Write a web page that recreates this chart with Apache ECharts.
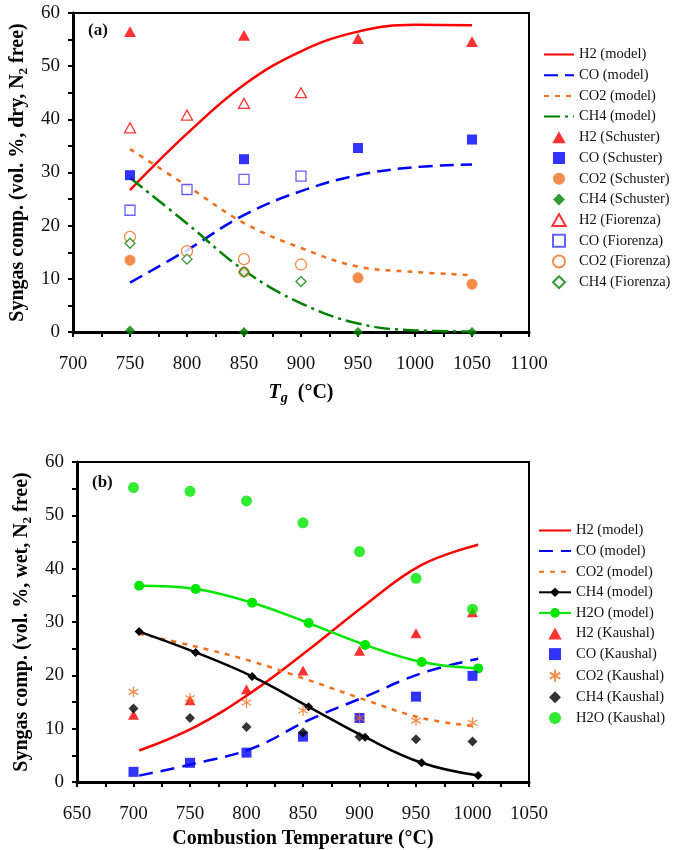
<!DOCTYPE html>
<html>
<head>
<meta charset="utf-8">
<script src="https://cdn.jsdelivr.net/npm/echarts@6/dist/echarts.min.js"></script>
<style>
  html, body { margin: 0; padding: 0; background: #fff; }
  #chart { width: 673px; height: 850px; }
</style>
</head>
<body>
<div id="chart"></div>
<script>
// ---- panel (a) ----
const tgModel = [750, 800, 850, 900, 950, 1000, 1050];
const h2ModelA = [26.7, 37.3, 46.5, 52.8, 56.5, 57.8, 57.7];
const coModelA = [9.3, 15.4, 22.0, 26.5, 29.5, 31.0, 31.5];
const co2ModelA = [34.4, 27.5, 20.5, 15.8, 12.3, 11.3, 10.7];
const ch4ModelA = [29.0, 20.4, 11.6, 5.4, 1.6, 0.3, 0.1];

const tgSchuster = [750, 850, 950, 1050];
const h2Schuster = [56.5, 55.8, 55.2, 54.6];
const coSchuster = [29.5, 32.5, 34.6, 36.2];
const co2Schuster = [13.5, 11.3, 10.2, 9.0];
const ch4Schuster = [0.3, 0, 0, 0];

const tgFiorenza = [750, 800, 850, 900];
const h2Fiorenza = [38.4, 40.8, 43.0, 45.0];
const coFiorenza = [22.9, 26.8, 28.7, 29.3];
const co2Fiorenza = [17.9, 15.2, 13.7, 12.7];
const ch4Fiorenza = [16.7, 13.7, 11.3, 9.5];

// ---- panel (b) ----
const tcModel = [705, 755, 805, 855, 905, 955, 1005];
const h2ModelB = [5.9, 10.4, 16.9, 24.8, 33.2, 40.7, 44.5];
const coModelB = [1.2, 3.5, 6.3, 11.6, 16.0, 20.4, 23.1];
const co2ModelB = [27.8, 25.4, 22.6, 19.1, 15.4, 12.0, 10.4];
const ch4ModelB = [28.2, 24.3, 19.8, 14.1, 8.4, 3.6, 1.2];
const h2oModelB = [36.8, 36.2, 33.6, 29.8, 25.7, 22.5, 21.3];

const tcKaushal = [700, 750, 800, 850, 900, 950, 1000];
const h2Kaushal = [12.6, 15.3, 17.4, 20.9, 24.6, 27.9, 31.8];
const coKaushal = [1.9, 3.6, 5.5, 8.5, 12.0, 16.0, 19.9];
const co2Kaushal = [16.9, 15.7, 14.9, 13.4, 12.0, 11.5, 11.1];
const ch4Kaushal = [13.8, 12.0, 10.3, 9.3, 8.5, 8.0, 7.6];
const h2oKaushal = [55.2, 54.5, 52.7, 48.6, 43.2, 38.2, 32.4];

const legendA = ['H2 (model)', 'CO (model)', 'CO2 (model)', 'CH4 (model)',
  'H2 (Schuster)', 'CO (Schuster)', 'CO2 (Schuster)', 'CH4 (Schuster)',
  'H2 (Fiorenza)', 'CO (Fiorenza)', 'CO2 (Fiorenza)', 'CH4 (Fiorenza)'];
const legendB = ['b:H2 (model)', 'b:CO (model)', 'b:CO2 (model)', 'b:CH4 (model)', 'b:H2O (model)',
  'b:H2 (Kaushal)', 'b:CO (Kaushal)', 'b:CO2 (Kaushal)', 'b:CH4 (Kaushal)', 'b:H2O (Kaushal)'];
// model lines drawn without markers: hide the marker in their legend icon
const plainLines = ['H2 (model)', 'CO (model)', 'CO2 (model)', 'CH4 (model)',
  'b:H2 (model)', 'b:CO (model)', 'b:CO2 (model)'];

const FONT = 'Liberation Serif';
const RED = '#ff0000', BLUE = '#0000ff', ORANGE = '#f36f1e', DKGREEN = '#008000', LIME = '#00e600';
// path symbols so that legend icons keep their aspect
const TRI = 'path://M5,0L10,9L0,9Z';
const SQR = 'path://M0,0L10,0L10,10L0,10Z';
const DIA = 'path://M5,0L10,5L5,10L0,5Z';
const ASTERISK = 'path://M5,0L5,10M0.67,2.5L9.33,7.5M0.67,7.5L9.33,2.5';

function pairs(xs, ys) {
  return xs.map((x, i) => [x, ys[i]]);
}

function modelLine(name, grid, xs, ys, color, dash, extra) {
  return Object.assign({
    name: name, type: 'line', xAxisIndex: grid, yAxisIndex: grid,
    data: pairs(xs, ys), smooth: 0.4, symbol: 'none',
    lineStyle: { color: color, width: 2.5, type: dash },
    itemStyle: { color: color }, z: 3
  }, extra || {});
}

function points(name, grid, xs, ys, symbol, size, fill, border) {
  return {
    name: name, type: 'scatter', xAxisIndex: grid, yAxisIndex: grid,
    data: pairs(xs, ys), symbol: symbol, symbolSize: size, symbolKeepAspect: true,
    itemStyle: { color: fill, borderColor: border || fill, borderWidth: border ? 1.3 : 0 },
    z: 4
  };
}

function legendItems(names) {
  return names.map(n => plainLines.indexOf(n) >= 0
    ? { name: n, itemStyle: { opacity: 0 } }
    : { name: n });
}

function xAxisOf(grid, min, max) {
  return {
    type: 'value', gridIndex: grid, min: min, max: max, interval: 50,
    nameLocation: 'middle',
    axisLine: { show: true, onZero: false, lineStyle: { color: '#000', width: 3 } },
    axisTick: { show: true, length: 5, lineStyle: { color: '#000', width: 2 } },
    minorTick: { show: true, splitNumber: 2, length: 5, lineStyle: { color: '#000', width: 2 } },
    axisLabel: { color: '#111', fontFamily: FONT, fontSize: 19, margin: 23, formatter: v => String(v) },
    splitLine: { show: false }
  };
}

function yAxisOf(grid, nameRich) {
  return {
    type: 'value', gridIndex: grid, min: 0, max: 60, interval: 10,
    name: nameRich, nameLocation: 'middle', nameGap: 40,
    nameTextStyle: {
      rich: {
        a: { fontFamily: FONT, fontWeight: 'bold', fontSize: 20, color: '#000', lineHeight: 24 },
        s: { fontFamily: FONT, fontWeight: 'bold', fontSize: 13, color: '#000', lineHeight: 13, verticalAlign: 'bottom' }
      }
    },
    axisLine: { show: true, onZero: false, lineStyle: { color: '#000', width: 3 } },
    axisTick: { show: true, length: 5, lineStyle: { color: '#000', width: 2 } },
    minorTick: { show: true, splitNumber: 2, length: 5, lineStyle: { color: '#000', width: 2 } },
    axisLabel: { color: '#111', fontFamily: FONT, fontSize: 19, margin: 13 },
    splitLine: { show: false }
  };
}

const legendText = { fontFamily: FONT, fontSize: 14.5, color: '#111' };

const option = {
  animation: false,
  backgroundColor: '#fff',
  grid: [
    { left: 73, top: 13, width: 456, height: 319, show: true, borderColor: '#000', borderWidth: 2, backgroundColor: 'transparent' },
    { left: 77, top: 462, width: 452, height: 320, show: true, borderColor: '#000', borderWidth: 2, backgroundColor: 'transparent' }
  ],
  xAxis: [
    Object.assign(xAxisOf(0, 700, 1100), {
      name: '{t|T}{g|g}{n|  (°C)}',
      nameGap: 49,
      nameTextStyle: {
        rich: {
          t: { fontFamily: FONT, fontWeight: 'bold', fontStyle: 'italic', fontSize: 20, color: '#000', lineHeight: 24 },
          g: { fontFamily: FONT, fontWeight: 'bold', fontStyle: 'italic', fontSize: 14, color: '#000', lineHeight: 13, verticalAlign: 'bottom' },
          n: { fontFamily: FONT, fontWeight: 'bold', fontSize: 20, color: '#000', lineHeight: 24 }
        }
      }
    }),
    Object.assign(xAxisOf(1, 650, 1050), {
      name: 'Combustion Temperature (°C)',
      nameGap: 47,
      nameTextStyle: { fontFamily: FONT, fontWeight: 'bold', fontSize: 20, color: '#000' }
    })
  ],
  yAxis: [
    yAxisOf(0, '{a|Syngas comp. (vol. %, dry, N}{s|2}{a| free)}'),
    yAxisOf(1, '{a|Syngas comp. (vol. %, wet, N}{s|2}{a| free)}')
  ],
  graphic: [
    { type: 'text', left: 88, top: 22, style: { text: '(a)', fontFamily: FONT, fontWeight: 'bold', fontSize: 17, fill: '#111' } },
    { type: 'text', left: 92, top: 474, style: { text: '(b)', fontFamily: FONT, fontWeight: 'bold', fontSize: 17, fill: '#111' } }
  ],
  legend: [
    {
      left: 538, top: 42, orient: 'vertical', itemWidth: 30, itemHeight: 12, itemGap: 5.7,
      symbolKeepAspect: true,
      textStyle: legendText,
      data: legendItems(legendA)
    },
    {
      left: 533, top: 518, orient: 'vertical', itemWidth: 32, itemHeight: 12, itemGap: 5.6,
      symbolKeepAspect: true,
      textStyle: legendText,
      formatter: function (name) { return name.replace(/^b:/, ''); },
      data: legendItems(legendB)
    }
  ],
  series: [
    modelLine('H2 (model)', 0, tgModel, h2ModelA, RED, 'solid'),
    modelLine('CO (model)', 0, tgModel, coModelA, BLUE, [14, 7]),
    modelLine('CO2 (model)', 0, tgModel, co2ModelA, ORANGE, [5, 6]),
    modelLine('CH4 (model)', 0, tgModel, ch4ModelA, DKGREEN, [16, 5, 3, 5]),
    points('H2 (Schuster)', 0, tgSchuster, h2Schuster, TRI, 12, RED),
    points('CO (Schuster)', 0, tgSchuster, coSchuster, SQR, 10, BLUE),
    points('CO2 (Schuster)', 0, tgSchuster, co2Schuster, 'circle', 11, ORANGE),
    points('CH4 (Schuster)', 0, tgSchuster, ch4Schuster, DIA, 10, DKGREEN),
    points('H2 (Fiorenza)', 0, tgFiorenza, h2Fiorenza, TRI, 11, '#fff', RED),
    points('CO (Fiorenza)', 0, tgFiorenza, coFiorenza, SQR, 10, '#fff', '#3b3bff'),
    points('CO2 (Fiorenza)', 0, tgFiorenza, co2Fiorenza, 'circle', 11, '#fff', ORANGE),
    points('CH4 (Fiorenza)', 0, tgFiorenza, ch4Fiorenza, DIA, 10, '#fff', DKGREEN),

    modelLine('b:H2 (model)', 1, tcModel, h2ModelB, RED, 'solid'),
    modelLine('b:CO (model)', 1, tcModel, coModelB, BLUE, [14, 8]),
    modelLine('b:CO2 (model)', 1, tcModel, co2ModelB, ORANGE, [5, 6]),
    modelLine('b:CH4 (model)', 1, tcModel, ch4ModelB, '#000', 'solid', { symbol: 'diamond', symbolSize: 9, showSymbol: true }),
    modelLine('b:H2O (model)', 1, tcModel, h2oModelB, LIME, 'solid', { symbol: 'circle', symbolSize: 10, showSymbol: true }),
    points('b:H2 (Kaushal)', 1, tcKaushal, h2Kaushal, TRI, 11, RED),
    points('b:CO (Kaushal)', 1, tcKaushal, coKaushal, SQR, 10, BLUE),
    points('b:CO2 (Kaushal)', 1, tcKaushal, co2Kaushal, ASTERISK, 11, 'none', ORANGE),
    points('b:CH4 (Kaushal)', 1, tcKaushal, ch4Kaushal, DIA, 10, '#000'),
    points('b:H2O (Kaushal)', 1, tcKaushal, h2oKaushal, 'circle', 11, LIME)
  ]
};

const chart = echarts.init(document.getElementById('chart'));
chart.setOption(option);
</script>
</body>
</html>
